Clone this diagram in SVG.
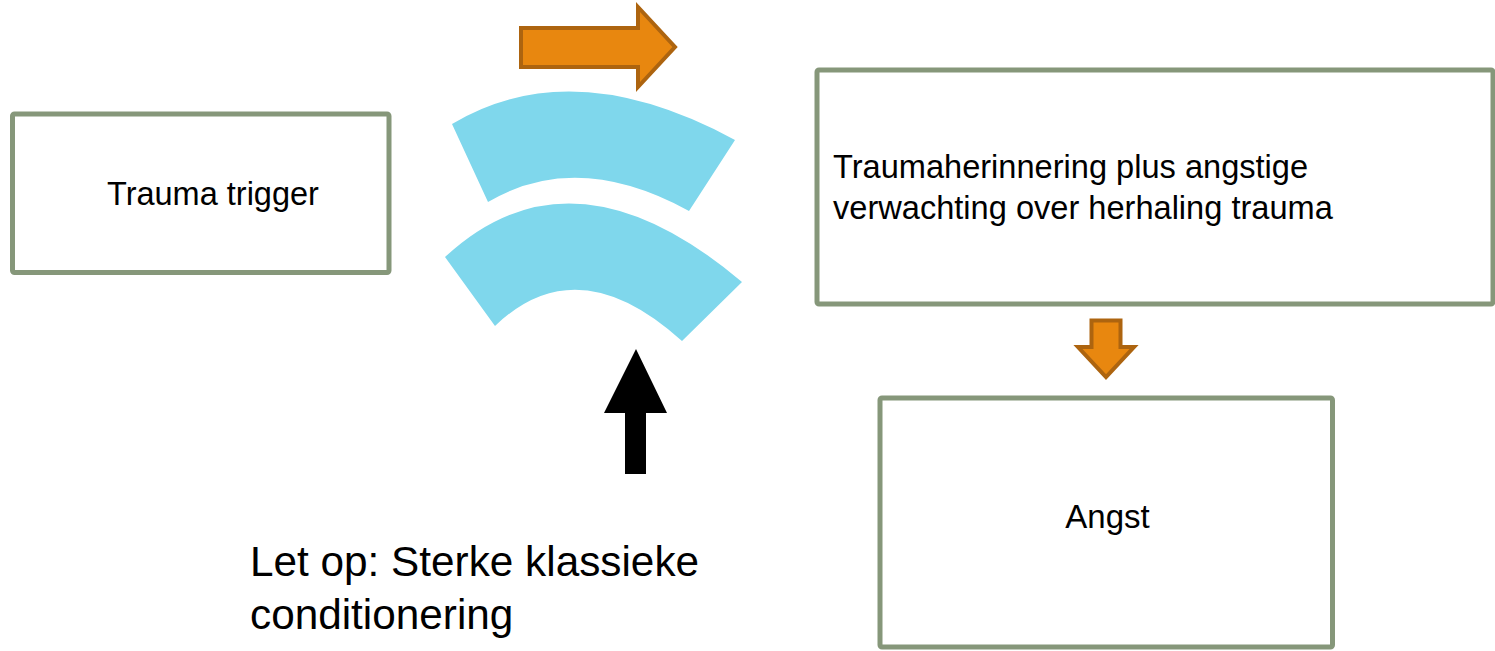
<svg xmlns="http://www.w3.org/2000/svg" width="1495" height="651" viewBox="0 0 1495 651">
<style>
.box{fill:#ffffff;stroke:#86977a;stroke-width:5}
.t{font-family:"Liberation Sans",Arial,sans-serif;fill:#000000}
.arc{fill:#7fd7ec}
.orange{fill:#e8870f;stroke:#ad640f;stroke-width:4;stroke-linejoin:miter}
</style>
<rect width="1495" height="651" fill="#ffffff"/>
<g id="node-trigger">
<rect class="box" x="12.5" y="114" width="376.5" height="158.5" rx="2"/>
<text class="t" x="107" y="205" font-size="32.5">Trauma trigger</text>
</g>
<g id="node-herinnering">
<rect class="box" x="817" y="70" width="676" height="234" rx="2"/>
<text class="t" x="833" y="178" font-size="32.6">Traumaherinnering plus angstige</text>
<text class="t" x="833" y="219" font-size="32.6">verwachting over herhaling trauma</text>
</g>
<g id="node-angst">
<rect class="box" x="880" y="398" width="452.5" height="249" rx="2"/>
<text class="t" x="1107.5" y="528" font-size="33" text-anchor="middle">Angst</text>
</g>
<g id="node-note">
<text class="t" x="250" y="576" font-size="42.3">Let op: Sterke klassieke</text>
<text class="t" x="250" y="629" font-size="42.3">conditionering</text>
</g>
<g id="node-arcs">
<path class="arc" d="M452,124 Q572.5,52 735,140 L689,211 Q577,149.5 488,202 Z"/>
<path class="arc" d="M445,257 Q572.5,138.5 742,282 L682,341 Q577.5,246.5 495,326 Z"/>
</g>
<g id="connectors">
<path class="orange" d="M521,28 L638,28 L638,7 L675,47 L638,87 L638,67 L521,67 Z"/>
<path class="orange" d="M1091.5,320.5 L1120.5,320.5 L1120.5,347 L1134,347 L1106,377 L1078,347 L1091.5,347 Z"/>
<path fill="#000000" d="M636,349 L667,413 L646,413 L646,474 L625,474 L625,413 L604,413 Z"/>
</g>
</svg>
